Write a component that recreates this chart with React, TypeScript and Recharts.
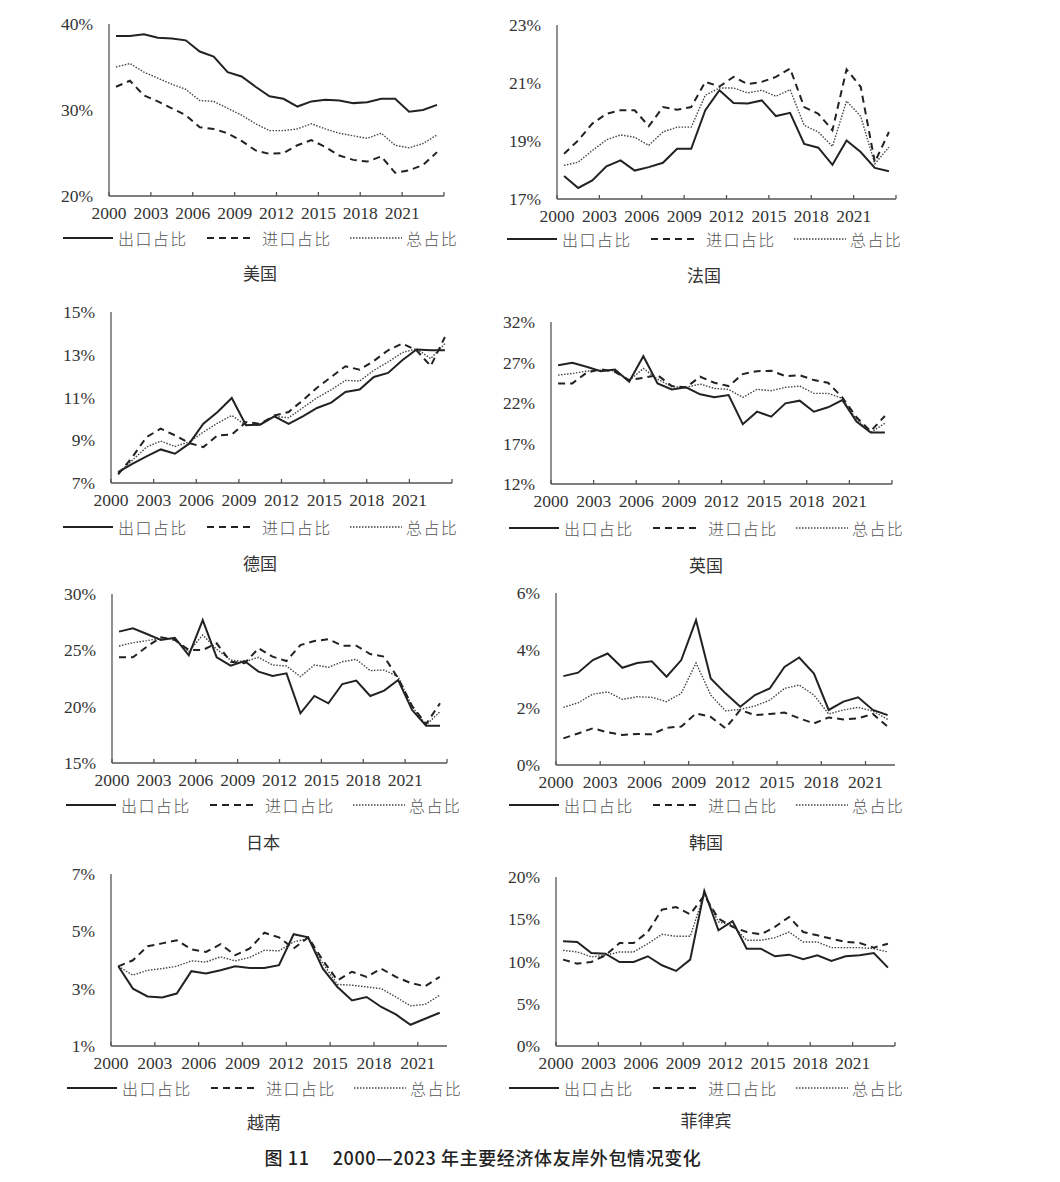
import React from "react";
import { LineChart, Line, XAxis, YAxis } from "recharts";

const years24 = [
  "2000", "2001", "2002", "2003", "2004", "2005", "2006", "2007", "2008", "2009", "2010", "2011",
  "2012", "2013", "2014", "2015", "2016", "2017", "2018", "2019", "2020", "2021", "2022", "2023",
];
const years23 = years24.slice(0, 23);
const tickLabels = ["2000", "2003", "2006", "2009", "2012", "2015", "2018", "2021"];
const legendNames = ["出口占比", "进口占比", "总占比"];

// 美国
const usExport = [38.6, 38.6, 38.8, 38.4, 38.3, 38.1, 36.8, 36.2, 34.4, 33.9, 32.7, 31.6, 31.3, 30.4, 31.0, 31.2, 31.1, 30.8, 30.9, 31.3, 31.3, 29.8, 30.0, 30.6];
const usImport = [32.7, 33.4, 31.7, 31.0, 30.2, 29.4, 28.0, 27.8, 27.3, 26.4, 25.3, 24.9, 25.0, 25.9, 26.5, 25.7, 24.7, 24.2, 24.0, 24.6, 22.7, 23.0, 23.6, 25.1];
const usTotal = [35.0, 35.4, 34.4, 33.7, 33.0, 32.4, 31.1, 31.0, 30.2, 29.4, 28.4, 27.6, 27.6, 27.8, 28.4, 27.8, 27.3, 27.0, 26.7, 27.3, 25.9, 25.6, 26.1, 27.1];

// 法国
const frExport = [17.79, 17.38, 17.64, 18.13, 18.33, 17.98, 18.1, 18.25, 18.73, 18.73, 20.06, 20.75, 20.31, 20.29, 20.4, 19.86, 19.97, 18.9, 18.77, 18.18, 19.02, 18.62, 18.07, 17.96];
const frImport = [18.56, 19.02, 19.6, 19.94, 20.06, 20.06, 19.51, 20.17, 20.08, 20.17, 21.04, 20.88, 21.21, 20.96, 21.04, 21.21, 21.5, 20.17, 19.94, 19.37, 21.47, 20.87, 18.27, 19.31];
const frTotal = [18.16, 18.27, 18.67, 19.04, 19.21, 19.13, 18.85, 19.31, 19.48, 19.48, 20.58, 20.83, 20.83, 20.66, 20.75, 20.54, 20.77, 19.54, 19.31, 18.81, 20.38, 19.85, 18.21, 18.79];

// 德国
const deExport = [7.51, 7.9, 8.25, 8.57, 8.37, 8.84, 9.77, 10.32, 10.98, 9.7, 9.73, 10.12, 9.77, 10.12, 10.51, 10.76, 11.26, 11.37, 11.96, 12.15, 12.74, 13.25, 13.21, 13.21];
const deImport = [7.4, 8.21, 9.15, 9.54, 9.23, 8.87, 8.68, 9.23, 9.26, 9.85, 9.77, 10.16, 10.32, 10.87, 11.46, 11.96, 12.46, 12.3, 12.71, 13.21, 13.52, 13.21, 12.47, 13.83];
const deTotal = [7.46, 8.06, 8.68, 8.96, 8.71, 8.92, 9.38, 9.8, 10.16, 9.7, 9.77, 10.12, 10.05, 10.52, 10.99, 11.36, 11.8, 11.77, 12.27, 12.66, 13.1, 13.28, 12.82, 13.52];

// 英国
const ukExport = [26.67, 26.96, 26.47, 25.93, 26.14, 24.62, 27.78, 24.42, 23.68, 23.93, 23.07, 22.7, 22.98, 19.38, 20.93, 20.32, 21.96, 22.29, 20.93, 21.47, 22.37, 19.7, 18.35, 18.35];
const ukImport = [24.42, 24.42, 25.73, 26.18, 25.85, 24.83, 25.11, 25.44, 24.09, 23.93, 25.24, 24.5, 24.09, 25.57, 25.93, 25.98, 25.32, 25.44, 24.83, 24.5, 22.7, 20.24, 18.52, 20.4];
const ukTotal = [25.44, 25.65, 25.93, 26.06, 25.98, 24.75, 26.26, 24.95, 24.01, 23.93, 24.34, 23.8, 23.68, 22.7, 23.68, 23.52, 23.93, 24.09, 23.19, 23.19, 22.57, 19.99, 18.35, 19.5];

// 日本
const jpExport = [26.66, 26.95, 26.45, 25.92, 26.12, 24.56, 27.69, 24.38, 23.64, 24.05, 23.11, 22.72, 22.96, 19.41, 20.95, 20.3, 22.01, 22.31, 20.95, 21.42, 22.37, 19.7, 18.31, 18.31];
const jpImport = [24.38, 24.38, 25.33, 26.15, 25.92, 25.03, 25.03, 25.62, 23.99, 23.85, 25.18, 24.44, 24.05, 25.47, 25.83, 25.98, 25.41, 25.41, 24.67, 24.44, 22.51, 20.06, 18.46, 20.3];
const jpTotal = [25.38, 25.68, 25.86, 26.07, 25.98, 24.88, 26.36, 25.09, 24.14, 23.99, 24.38, 23.7, 23.61, 22.66, 23.7, 23.49, 23.99, 24.2, 23.2, 23.25, 22.66, 20.0, 18.37, 19.56];

// 韩国
const krExport = [3.1, 3.22, 3.66, 3.89, 3.39, 3.56, 3.62, 3.08, 3.66, 5.05, 3.02, 2.5, 2.03, 2.44, 2.67, 3.42, 3.75, 3.19, 1.92, 2.21, 2.36, 1.92, 1.74];
const krImport = [0.93, 1.1, 1.28, 1.14, 1.05, 1.08, 1.07, 1.3, 1.34, 1.8, 1.68, 1.28, 1.92, 1.74, 1.78, 1.83, 1.63, 1.45, 1.66, 1.59, 1.63, 1.78, 1.34];
const krTotal = [2.01, 2.17, 2.47, 2.55, 2.29, 2.38, 2.36, 2.21, 2.5, 3.56, 2.44, 1.89, 1.94, 2.06, 2.26, 2.67, 2.79, 2.44, 1.78, 1.92, 2.01, 1.88, 1.59];

// 越南
const vnExport = [3.78, 3.0, 2.73, 2.69, 2.83, 3.61, 3.53, 3.64, 3.78, 3.72, 3.72, 3.82, 4.9, 4.79, 3.7, 3.06, 2.59, 2.71, 2.36, 2.1, 1.74, 1.95, 2.16];
const vnImport = [3.78, 3.99, 4.48, 4.58, 4.69, 4.37, 4.28, 4.55, 4.17, 4.4, 4.95, 4.79, 4.4, 4.79, 3.99, 3.29, 3.59, 3.41, 3.7, 3.41, 3.2, 3.08, 3.41];
const vnTotal = [3.78, 3.47, 3.64, 3.7, 3.78, 3.97, 3.93, 4.11, 3.97, 4.09, 4.34, 4.32, 4.63, 4.75, 3.88, 3.15, 3.12, 3.06, 3.0, 2.71, 2.4, 2.45, 2.77];

// 菲律宾
const phExport = [12.39, 12.31, 11.01, 10.93, 9.94, 9.94, 10.62, 9.55, 8.88, 10.22, 18.34, 13.69, 14.76, 11.52, 11.52, 10.62, 10.81, 10.26, 10.73, 10.06, 10.62, 10.73, 11.01, 9.27];
const phImport = [10.22, 9.75, 9.94, 10.73, 12.19, 12.19, 13.49, 16.14, 16.45, 15.58, 17.83, 15.07, 14.09, 13.49, 13.22, 14.09, 15.27, 13.49, 13.1, 12.7, 12.31, 12.19, 11.64, 12.11];
const phTotal = [11.32, 11.13, 10.54, 10.73, 11.13, 11.13, 12.11, 13.22, 12.98, 12.98, 18.03, 14.68, 14.28, 12.51, 12.51, 12.82, 13.49, 12.31, 12.31, 11.64, 11.64, 11.64, 11.52, 11.13];

const INK = "#222";
const AXIS = "#555";
const SERIF = "'Liberation Serif', 'DejaVu Serif', serif";
const CJK = "'Noto Sans CJK SC', sans-serif";

type PanelProps = {
  title: string;
  years: string[];
  exp: number[];
  imp: number[];
  tot: number[];
  yDomain: [number, number];
  yTicks: number[];
  L: number;
  R: number;
  T: number;
  B: number;
  legendX: number;
  legendY: number;
  titleY: number;
};

// serif tick labels drawn by hand so the font is certain
const XTick = (props: any) => {
  const { x, y, payload } = props;
  const label = tickLabels[payload.value / 3] ?? "";
  return (
    <text x={x} y={y} dy="0.71em" textAnchor="middle" style={{ fontFamily: SERIF, fontSize: 17.5, fill: "#333" }}>
      {label}
    </text>
  );
};

const YTick = (props: any) => {
  const { x, y, payload } = props;
  return (
    <text x={x} y={y} dy="0.35em" textAnchor="end" style={{ fontFamily: SERIF, fontSize: 17.5, fill: "#333" }}>
      {`${payload.value}%`}
    </text>
  );
};

const Legend = ({ x, y }: { x: number; y: number }) => {
  const items = [
    { dash: undefined, width: 2, color: INK, lx: 0, lw: 50, tx: 55 },
    { dash: "7 5", width: 2, color: INK, lx: 144, lw: 48, tx: 199 },
    { dash: "1.5 1.5", width: 1.5, color: "#444", lx: 287, lw: 52, tx: 343 },
  ];
  return (
    <div style={{ position: "absolute", left: x, top: y - 11, height: 22, width: 400 }}>
      {items.map((it, i) => (
        <React.Fragment key={legendNames[i]}>
          <svg style={{ position: "absolute", left: it.lx, top: 0 }} width={it.lw} height={22}>
            <line x1={0} y1={11} x2={it.lw} y2={11} stroke={it.color} strokeWidth={it.width} strokeDasharray={it.dash} />
          </svg>
          <span
            style={{
              position: "absolute",
              left: it.tx,
              top: 0,
              lineHeight: "22px",
              fontFamily: CJK,
              fontSize: 16,
              fontWeight: 300,
              letterSpacing: 1.4,
              color: "#555",
              whiteSpace: "nowrap",
            }}
          >
            {legendNames[i]}
          </span>
        </React.Fragment>
      ))}
    </div>
  );
};

const Panel = (p: PanelProps) => {
  const n = p.years.length;
  const data = p.years.map((year, i) => ({ x: i + 0.5, year, exp: p.exp[i], imp: p.imp[i], tot: p.tot[i] }));
  const xTicks = tickLabels.map((_, k) => k * 3);
  if (n % 3 === 0) xTicks.push(n);
  const plotW = p.R - p.L;
  const plotH = p.B - p.T;
  return (
    <>
      <div style={{ position: "absolute", left: p.L - 60, top: p.T - 10 }}>
        <LineChart width={plotW + 70} height={plotH + 50} data={data} margin={{ top: 10, right: 10, left: 0, bottom: 0 }}>
          <XAxis
            type="number"
            dataKey="x"
            domain={[0, n]}
            ticks={xTicks}
            interval={0}
            height={40}
            axisLine={{ stroke: AXIS, strokeWidth: 1.3 }}
            tickLine={{ stroke: AXIS, strokeWidth: 1.3 }}
            tickSize={-4}
            tickMargin={15}
            tick={XTick}
          />
          <YAxis
            type="number"
            domain={p.yDomain}
            ticks={p.yTicks}
            interval={0}
            width={60}
            axisLine={{ stroke: AXIS, strokeWidth: 1.3 }}
            tickLine={false}
            tickSize={0}
            tickMargin={16}
            tick={YTick}
          />
          <Line type="linear" dataKey="tot" stroke="#444" strokeWidth={1.4} strokeDasharray="1.5 1.5" dot={false} isAnimationActive={false} />
          <Line type="linear" dataKey="imp" stroke={INK} strokeWidth={2} strokeDasharray="7 5" dot={false} isAnimationActive={false} />
          <Line type="linear" dataKey="exp" stroke={INK} strokeWidth={2} dot={false} isAnimationActive={false} />
        </LineChart>
      </div>
      <Legend x={p.legendX} y={p.legendY} />
      <div
        style={{
          position: "absolute",
          left: p.legendX,
          width: 394,
          top: p.titleY - 12,
          lineHeight: "24px",
          textAlign: "center",
          fontFamily: CJK,
          fontSize: 17,
          color: "#333",
        }}
      >
        {p.title}
      </div>
    </>
  );
};

const panels: PanelProps[] = [
  { title: "美国", years: years24, exp: usExport, imp: usImport, tot: usTotal, yDomain: [20, 40], yTicks: [20, 30, 40], L: 109, R: 444, T: 24, B: 196, legendX: 63, legendY: 238, titleY: 273 },
  { title: "法国", years: years24, exp: frExport, imp: frImport, tot: frTotal, yDomain: [17, 23], yTicks: [17, 19, 21, 23], L: 557, R: 896, T: 25, B: 199, legendX: 507, legendY: 239, titleY: 275 },
  { title: "德国", years: years24, exp: deExport, imp: deImport, tot: deTotal, yDomain: [7, 15], yTicks: [7, 9, 11, 13, 15], L: 111, R: 452, T: 312, B: 483, legendX: 63, legendY: 527, titleY: 563 },
  { title: "英国", years: years24, exp: ukExport, imp: ukImport, tot: ukTotal, yDomain: [12, 32], yTicks: [12, 17, 22, 27, 32], L: 551, R: 892, T: 322, B: 484, legendX: 509, legendY: 528, titleY: 565 },
  { title: "日本", years: years24, exp: jpExport, imp: jpImport, tot: jpTotal, yDomain: [15, 30], yTicks: [15, 20, 25, 30], L: 112, R: 447, T: 594, B: 763, legendX: 66, legendY: 805, titleY: 842 },
  { title: "韩国", years: years23, exp: krExport, imp: krImport, tot: krTotal, yDomain: [0, 6], yTicks: [0, 2, 4, 6], L: 556, R: 895, T: 593, B: 765, legendX: 509, legendY: 805, titleY: 842 },
  { title: "越南", years: years23, exp: vnExport, imp: vnImport, tot: vnTotal, yDomain: [1, 7], yTicks: [1, 3, 5, 7], L: 111, R: 447, T: 874, B: 1046, legendX: 67, legendY: 1088, titleY: 1122 },
  { title: "菲律宾", years: years24, exp: phExport, imp: phImport, tot: phTotal, yDomain: [0, 20], yTicks: [0, 5, 10, 15, 20], L: 556, R: 895, T: 877, B: 1046, legendX: 509, legendY: 1088, titleY: 1120 },
];

export default function App() {
  return (
    <div style={{ position: "absolute", left: 0, top: 0, width: 1060, height: 1182, background: "#fff", overflow: "hidden" }}>
      {panels.map((p) => (
        <Panel key={p.title} {...p} />
      ))}
      <div
        style={{
          position: "absolute",
          left: 0,
          width: 966,
          top: 1145,
          lineHeight: "24px",
          textAlign: "center",
          fontFamily: CJK,
          fontSize: 18,
          fontWeight: 500,
          letterSpacing: 0.6,
          color: "#222",
          whiteSpace: "pre",
        }}
      >
        {"图 11　 2000—2023 年主要经济体友岸外包情况变化"}
      </div>
    </div>
  );
}
